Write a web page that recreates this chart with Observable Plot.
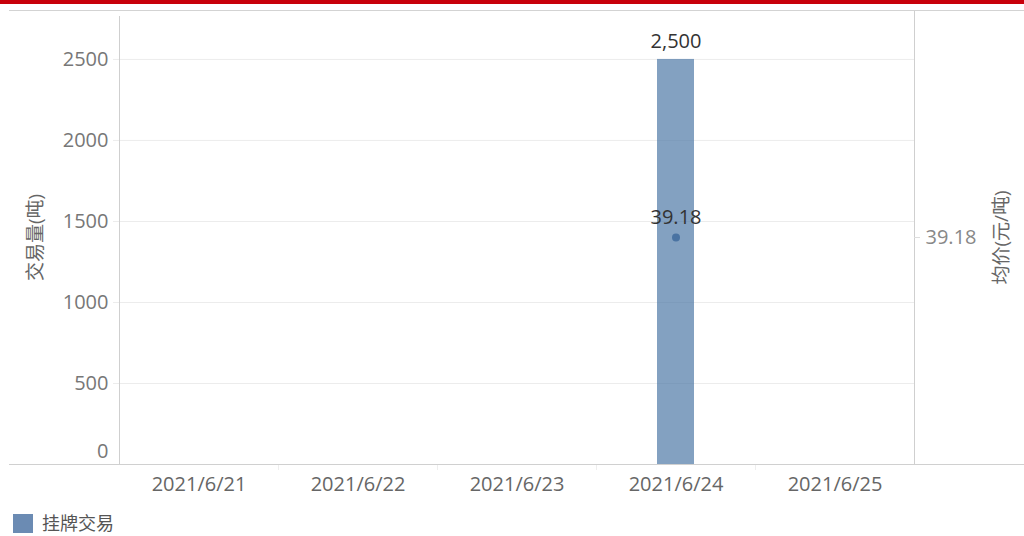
<!DOCTYPE html>
<html><head><meta charset="utf-8">
<script src="https://cdn.jsdelivr.net/npm/d3@7"></script>
<script src="https://cdn.jsdelivr.net/npm/@observablehq/plot@0.6"></script>
<style>
body{margin:0;background:#fff;font-family:'Open Sans','Noto Sans CJK SC',sans-serif;}
#wrap{position:relative;width:1024px;height:536px;overflow:hidden;background:#fff;}
#redbar{position:absolute;left:0;top:0;width:1024px;height:4px;background:#c8000a;}
#legend{position:absolute;left:13px;top:514px;display:flex;align-items:center;font-size:18px;color:#555;line-height:19px;}
.sw{width:20px;height:19px;background:#6b8bb3;margin-right:9px;}
</style></head><body>
<div id="wrap"><div id="chart"></div><div id="redbar"></div><div id="legend"><div class="sw"></div><span id="legtext"></span></div></div>
<script>
const dates = ["2021/6/21","2021/6/22","2021/6/23","2021/6/24","2021/6/25"];
const volumes = [null, null, null, 2500, null];
const prices = [null, null, null, 39.18, null];
const yTicks = [0, 500, 1000, 1500, 2000, 2500];
const priceTicks = [39.18];
const seriesName = "挂牌交易";
const yTitle = "交易量(吨)";
const y2Title = "均价(元/吨)";

document.getElementById("legtext").textContent = seriesName;

const rows = dates.map((d, i) => ({date: d, volume: volumes[i], price: prices[i]}));
const barRows = rows.filter(r => r.volume != null);
const priceRows = rows.filter(r => r.price != null);

const Y_MAX = 2802;
const P_LO = 38.18, P_HI = 40.18;
const pToY = p => (p - P_LO) / (P_HI - P_LO) * Y_MAX;
const W = 1024, ML = 119, MR = 110;
const bw = (W - ML - MR) / dates.length;

const chart = Plot.plot({
  width: W, height: 510, marginTop: 10, marginBottom: 46, marginLeft: ML, marginRight: MR,
  style: {fontFamily: "'Open Sans','Noto Sans CJK SC',sans-serif", fontSize: "20px", background: "#fff", overflow: "visible"},
  x: {type: "band", domain: dates, padding: 0, label: null},
  y: {domain: [0, Y_MAX], label: null, axis: null},
  marks: [
    Plot.gridY(yTicks.filter(t => t > 0), {stroke: "#ececec", strokeOpacity: 1, insetLeft: -6}),
    Plot.ruleX(dates.slice(1), {x: d => d, dx: -bw / 2, y1: 0, y2: 0, insetBottom: -6, stroke: "#eeeeee"}),
    Plot.ruleX([dates[0]], {x: d => d, dx: -bw / 2, y1: 0, y2: Y_MAX, insetBottom: -6, stroke: "#cfcfcf"}),
    Plot.ruleX([dates[dates.length - 1]], {x: d => d, dx: bw / 2, y1: 0, y2: Y_MAX, stroke: "#cfcfcf"}),
    Plot.ruleY([Y_MAX], {stroke: "#d3d3d3", insetLeft: -110, insetRight: -110}),
    Plot.barY(barRows, {x: "date", y: "volume", fill: "#4e79a7", fillOpacity: 0.7, insetLeft: 61, insetRight: 61}),
    Plot.ruleY([0], {stroke: "#d0d0d0", insetLeft: -110, insetRight: -110}),
    Plot.text(barRows, {x: "date", y: "volume", text: d => d3.format(",")(d.volume), dy: -18, fill: "#333", fontSize: 20}),
    Plot.dot(priceRows, {x: "date", y: d => pToY(d.price), r: 4, fill: "#4a73a2"}),
    Plot.text(priceRows, {x: "date", y: d => pToY(d.price), text: d => d.price.toFixed(2), dy: -20, fill: "#333", fontSize: 20}),
    Plot.text(yTicks.filter(t => t > 0), {y: d => d, text: d => String(d), frameAnchor: "left", dx: -11, textAnchor: "end", fill: "#777", fontSize: 20}),
    Plot.text(yTicks.filter(t => t === 0), {y: d => d, text: d => String(d), frameAnchor: "left", dx: -11, dy: -13, textAnchor: "end", fill: "#777", fontSize: 20}),
    Plot.ruleY(priceTicks, {y: d => pToY(d), insetLeft: W - ML - MR, insetRight: -6, stroke: "#dddddd"}),
    Plot.text(priceTicks, {y: d => pToY(d), text: d => d.toFixed(2), frameAnchor: "right", dx: 11, textAnchor: "start", fill: "#888", fontSize: 20}),
    Plot.text([yTitle], {text: d => d, frameAnchor: "left", dx: -84, rotate: -90, textAnchor: "middle", fill: "#666", fontSize: 19}),
    Plot.text([y2Title], {text: d => d, frameAnchor: "right", dx: 87, rotate: -90, textAnchor: "middle", fill: "#666", fontSize: 19}),
    Plot.axisX({tickSize: 0, tickPadding: 12, fontSize: 20, fill: "#666"})
  ]
});
document.getElementById("chart").appendChild(chart);
</script>
</body></html>
